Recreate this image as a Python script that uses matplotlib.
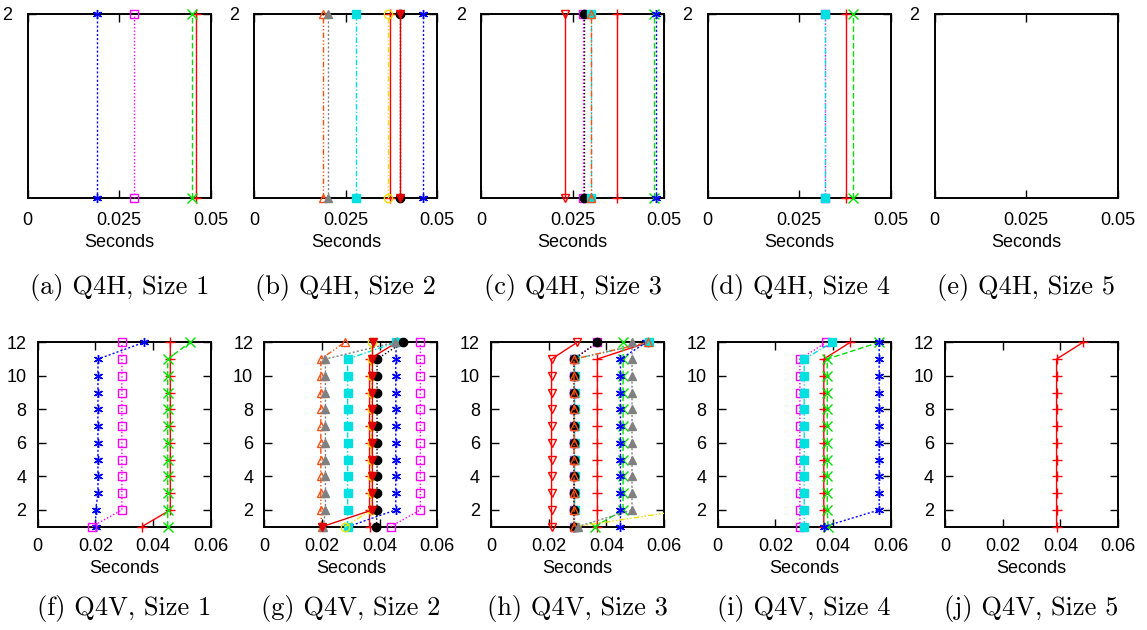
import matplotlib
matplotlib.use("Agg")
import matplotlib.pyplot as plt

plt.rcParams["font.family"] = ["Liberation Sans", "DejaVu Sans"]

# gnuplot-like styles: colour, marker, filled, dash pattern
STYLES = {
    "red": ("#ff0000", "+", False, "-"),
    "green": ("#00e000", "x", False, (0, (4, 2))),
    "blue": ("#0000ff", (6, 2, 0), False, (0, (1.5, 1.5))),
    "magenta": ("#ff00ff", "s", False, (0, (1, 1.5))),
    "cyan": ("#00e0e0", "s", True, (0, (4, 1.5, 1, 1.5))),
    "yellow": ("#f0e000", "o", False, (0, (4, 1.5, 1, 1.5, 1, 1.5))),
    "black": ("#000000", "o", True, (0, (1, 1.5))),
    "orange": ("#ff5010", "^", False, (0, (4, 1.5, 1, 1.5, 1, 1.5))),
    "gray": ("#808080", "^", True, (0, (1.5, 1.5))),
    "redv": ("#ff0000", "v", False, "-"),
    "darkredv": ("#e00000", "v", True, "-"),
}

# top row: x values at y = 1 and y = 2
a_red = [0.0460, 0.0460]
a_green = [0.0448, 0.0448]
a_blue = [0.0189, 0.0189]
a_magenta = [0.0290, 0.0290]

b_red = [0.0372, 0.0372]
b_cyan = [0.0279, 0.0279]
b_yellow = [0.0366, 0.0366]
b_black = [0.0399, 0.0399]
b_orange = [0.0187, 0.0187]
b_gray = [0.0200, 0.0200]
b_darkredv = [0.0399, 0.0399]
b_blue = [0.0460, 0.0460]

c_redv = [0.0230, 0.0230]
c_magenta = [0.0279, 0.0279]
c_black = [0.0281, 0.0281]
c_cyan = [0.0300, 0.0300]
c_orange = [0.0300, 0.0300]
c_red = [0.0371, 0.0371]
c_green = [0.0472, 0.0472]
c_blue = [0.0479, 0.0479]

d_magenta = [0.0321, 0.0321]
d_cyan = [0.0321, 0.0321]
d_red = [0.0379, 0.0379]
d_green = [0.0398, 0.0398]

# bottom row: x values at y = 1..12
f_red = [0.0361, 0.0460, 0.0460, 0.0460, 0.0460, 0.0460, 0.0460, 0.0460, 0.0460, 0.0460, 0.0460, 0.0460]
f_green = [0.0451, 0.0451, 0.0451, 0.0451, 0.0451, 0.0451, 0.0451, 0.0451, 0.0451, 0.0451, 0.0451, 0.0529]
f_blue = [0.0201, 0.0201, 0.0209, 0.0209, 0.0209, 0.0209, 0.0209, 0.0209, 0.0209, 0.0209, 0.0209, 0.0369]
f_magenta = [0.0188, 0.0292, 0.0292, 0.0292, 0.0292, 0.0292, 0.0292, 0.0292, 0.0292, 0.0292, 0.0292, 0.0292]

g_orange = [0.0199, 0.0196, 0.0196, 0.0196, 0.0196, 0.0196, 0.0196, 0.0196, 0.0196, 0.0196, 0.0196, 0.0279]
g_gray = [0.0205, 0.0212, 0.0212, 0.0212, 0.0212, 0.0212, 0.0212, 0.0212, 0.0212, 0.0212, 0.0212, 0.0452]
g_cyan = [0.0289, 0.0289, 0.0289, 0.0289, 0.0289, 0.0289, 0.0289, 0.0289, 0.0289, 0.0289, 0.0289, 0.0458]
g_yellow = [0.0279, 0.0372, 0.0372, 0.0372, 0.0372, 0.0372, 0.0372, 0.0372, 0.0372, 0.0372, 0.0372, 0.0372]
g_red = [0.0365, 0.0365, 0.0365, 0.0365, 0.0365, 0.0365, 0.0365, 0.0365, 0.0365, 0.0365, 0.0365, 0.0460]
g_darkredv = [0.0200, 0.0375, 0.0375, 0.0375, 0.0375, 0.0375, 0.0375, 0.0375, 0.0375, 0.0375, 0.0375, 0.0376]
g_black = [0.0389, 0.0391, 0.0391, 0.0391, 0.0391, 0.0391, 0.0391, 0.0391, 0.0391, 0.0391, 0.0391, 0.0481]
g_blue = [0.0290, 0.0456, 0.0456, 0.0456, 0.0456, 0.0456, 0.0456, 0.0456, 0.0456, 0.0456, 0.0456, 0.0458]
g_magenta = [0.0438, 0.0541, 0.0541, 0.0541, 0.0541, 0.0541, 0.0541, 0.0541, 0.0541, 0.0541, 0.0541, 0.0541]

h_redv = [0.0210, 0.0210, 0.0210, 0.0210, 0.0210, 0.0210, 0.0210, 0.0210, 0.0210, 0.0210, 0.0210, 0.0299]
h_red = [0.0369, 0.0369, 0.0369, 0.0369, 0.0369, 0.0369, 0.0369, 0.0369, 0.0369, 0.0369, 0.0369, 0.0545]
h_magenta = [0.0288, 0.0288, 0.0288, 0.0288, 0.0288, 0.0288, 0.0288, 0.0288, 0.0288, 0.0288, 0.0288, 0.0369]
h_cyan = [0.0290, 0.0290, 0.0290, 0.0290, 0.0290, 0.0290, 0.0290, 0.0290, 0.0290, 0.0290, 0.0290, 0.0548]
h_black = [0.0288, 0.0288, 0.0288, 0.0288, 0.0288, 0.0288, 0.0288, 0.0288, 0.0288, 0.0288, 0.0288, 0.0369]
h_orange = [0.0288, 0.0288, 0.0288, 0.0288, 0.0288, 0.0288, 0.0288, 0.0288, 0.0288, 0.0288, 0.0288, 0.0546]
h_green = [0.0360, 0.0458, 0.0458, 0.0458, 0.0458, 0.0458, 0.0458, 0.0458, 0.0458, 0.0458, 0.0458, 0.0458]
h_blue = [0.0449, 0.0449, 0.0449, 0.0449, 0.0449, 0.0449, 0.0449, 0.0449, 0.0449, 0.0449, 0.0449, 0.0539]
h_gray = [0.0300, 0.0489, 0.0489, 0.0489, 0.0489, 0.0489, 0.0489, 0.0489, 0.0489, 0.0489, 0.0489, 0.0489]
h_yellow = [0.0295, 0.0676, 0.0676, 0.0676, 0.0676, 0.0676, 0.0676, 0.0676, 0.0676, 0.0676, 0.0676, 0.0676]

i_magenta = [0.0285, 0.0285, 0.0285, 0.0285, 0.0285, 0.0285, 0.0285, 0.0285, 0.0285, 0.0285, 0.0285, 0.0377]
i_cyan = [0.0300, 0.0300, 0.0300, 0.0300, 0.0300, 0.0300, 0.0300, 0.0300, 0.0300, 0.0300, 0.0300, 0.0398]
i_red = [0.0368, 0.0368, 0.0368, 0.0368, 0.0368, 0.0368, 0.0368, 0.0368, 0.0368, 0.0368, 0.0368, 0.0460]
i_green = [0.0383, 0.0380, 0.0380, 0.0380, 0.0380, 0.0380, 0.0380, 0.0380, 0.0380, 0.0380, 0.0380, 0.0560]
i_blue = [0.0368, 0.0560, 0.0560, 0.0560, 0.0560, 0.0560, 0.0560, 0.0560, 0.0560, 0.0560, 0.0560, 0.0560]

j_red = [0.0387, 0.0387, 0.0387, 0.0387, 0.0387, 0.0387, 0.0387, 0.0387, 0.0387, 0.0387, 0.0387, 0.0479]

top_y = [1, 2]
bottom_y = [1, 2, 3, 4, 5, 6, 7, 8, 9, 10, 11, 12]

top_panels = [
    ("(a) Q4H, Size 1", [("red", a_red), ("green", a_green), ("blue", a_blue), ("magenta", a_magenta)]),
    ("(b) Q4H, Size 2", [("red", b_red), ("cyan", b_cyan), ("yellow", b_yellow), ("black", b_black),
                         ("orange", b_orange), ("gray", b_gray), ("darkredv", b_darkredv), ("blue", b_blue)]),
    ("(c) Q4H, Size 3", [("redv", c_redv), ("magenta", c_magenta), ("black", c_black), ("cyan", c_cyan),
                         ("orange", c_orange), ("red", c_red), ("green", c_green), ("blue", c_blue)]),
    ("(d) Q4H, Size 4", [("red", d_red), ("green", d_green), ("magenta", d_magenta), ("cyan", d_cyan)]),
    ("(e) Q4H, Size 5", []),
]
bottom_panels = [
    ("(f) Q4V, Size 1", [("red", f_red), ("green", f_green), ("blue", f_blue), ("magenta", f_magenta)]),
    ("(g) Q4V, Size 2", [("red", g_red), ("blue", g_blue), ("magenta", g_magenta), ("cyan", g_cyan),
                         ("yellow", g_yellow), ("black", g_black), ("orange", g_orange), ("gray", g_gray),
                         ("darkredv", g_darkredv)]),
    ("(h) Q4V, Size 3", [("red", h_red), ("green", h_green), ("blue", h_blue), ("magenta", h_magenta),
                         ("cyan", h_cyan), ("yellow", h_yellow), ("black", h_black), ("orange", h_orange),
                         ("gray", h_gray), ("redv", h_redv)]),
    ("(i) Q4V, Size 4", [("red", i_red), ("green", i_green), ("blue", i_blue), ("magenta", i_magenta),
                         ("cyan", i_cyan)]),
    ("(j) Q4V, Size 5", [("red", j_red)]),
]

top_xticks = [0, 0.025, 0.05]
top_xlabels = ["0", "0.025", "0.05"]
bottom_xticks = [0, 0.02, 0.04, 0.06]
bottom_xlabels = ["0", "0.02", "0.04", "0.06"]
bottom_yticks = [2, 4, 6, 8, 10, 12]


def draw_series(ax, series, ys, xmax):
    for name, xs in series:
        color, marker, filled, dash = STYLES[name]
        if marker in ("s", "o"):
            size = 6
        elif marker in ("^", "v"):
            size = 5.5
        else:
            size = 6.5
        ax.plot(xs, ys, color=color, linestyle=dash, linewidth=1.0, marker=marker,
                markersize=size,
                markerfacecolor=color if filled else "none", markeredgecolor=color,
                markeredgewidth=1.0, clip_on=max(xs) > xmax, zorder=3)


fig = plt.figure(figsize=(11.47, 6.3), dpi=100)
W, H = 1147, 630

top_left = [27.7, 254.3, 481.0, 707.7, 934.5]
for k, (caption, series) in enumerate(top_panels):
    ax = fig.add_axes([top_left[k] / W, 1 - 197.7 / H, 183 / W, 184 / H])
    draw_series(ax, series, top_y, 0.05)
    ax.set_xlim(0, 0.05)
    ax.set_ylim(1, 2)
    ax.set_xticks(top_xticks)
    ax.set_xticklabels(top_xlabels)
    ax.set_yticks([2])
    ax.tick_params(direction="in", length=6, width=1, top=True, right=True,
                   labelsize=13, pad=10)
    ax.tick_params(axis="y", pad=11)
    ax.set_xlabel("Seconds", fontsize=13, labelpad=4)
    for s in ax.spines.values():
        s.set_linewidth(1.4)
    fig.text((top_left[k] + 91.5) / W, 1 - 288 / H, caption, ha="center", va="center",
             fontsize=19, family="cmr10")

bottom_left = [37.7, 264.3, 491.0, 717.7, 945.0]
for k, (caption, series) in enumerate(bottom_panels):
    ax = fig.add_axes([bottom_left[k] / W, 1 - 526.7 / H, 173 / W, 184.4 / H])
    draw_series(ax, series, bottom_y, 0.06)
    ax.set_xlim(0, 0.06)
    ax.set_ylim(1, 12)
    ax.set_xticks(bottom_xticks)
    ax.set_xticklabels(bottom_xlabels)
    ax.set_yticks(bottom_yticks)
    ax.tick_params(direction="in", length=6, width=1, top=True, right=True,
                   labelsize=13, pad=8)
    ax.set_xlabel("Seconds", fontsize=13, labelpad=4)
    for s in ax.spines.values():
        s.set_linewidth(1.4)
    fig.text((bottom_left[k] + 86.5) / W, 1 - 608 / H, caption, ha="center", va="center",
             fontsize=19, family="cmr10")

fig.savefig("out.png", dpi=100)
